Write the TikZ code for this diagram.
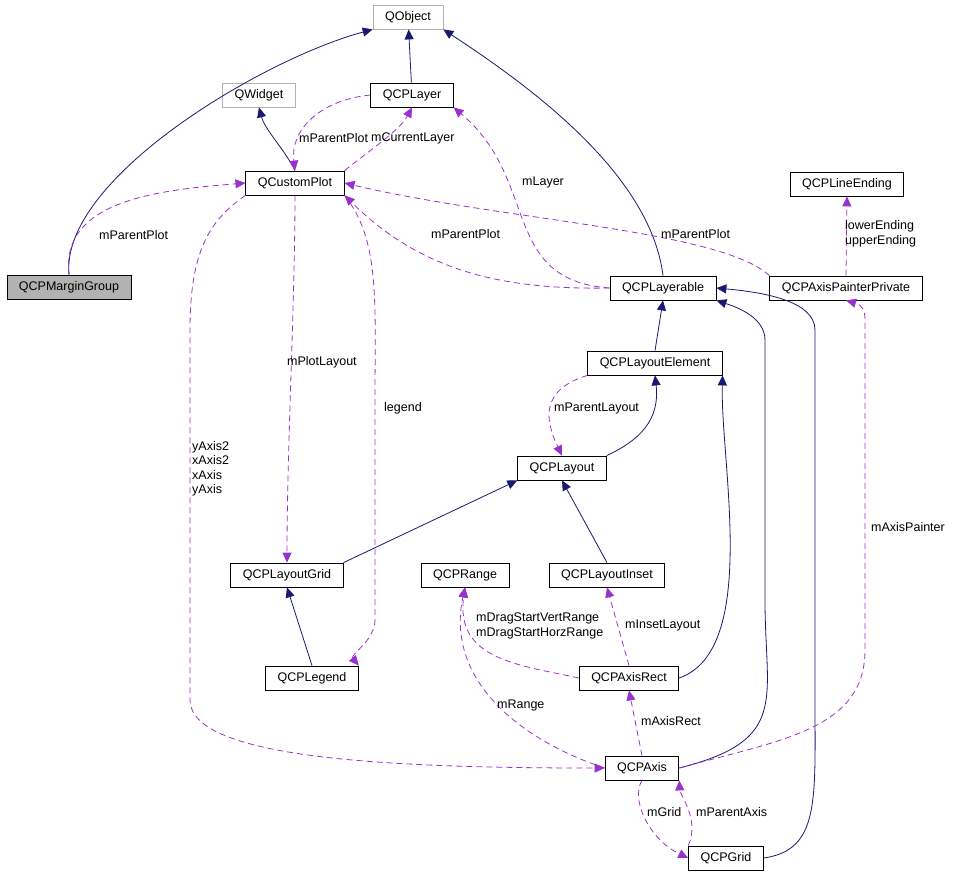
\documentclass[tikz,border=0pt]{standalone}
\usepackage{fontspec}
\setmainfont{Liberation Sans}
\usetikzlibrary{arrows.meta}
\definecolor{navy}{RGB}{25,25,112}
\definecolor{usage}{RGB}{153,50,204}
\begin{document}
\begin{tikzpicture}[x=1pt,y=-1pt,font=\fontsize{12.5}{14.5}\selectfont]
    \tikzset{cls/.style = {shape=rectangle,draw,thick,minimum height=24pt,inner xsep=12pt,inner ysep=2pt}}
    \tikzset{ext/.style = {cls,draw=gray!60}}
    \tikzset{cur/.style = {cls,fill=gray!60}}
    \tikzset{erbt/.style = {navy,thick,-{Triangle[length=10pt,width=9pt]}}}
    \tikzset{uses/.style = {usage,thick,dashed,dash pattern=on 6pt off 4pt,-{Triangle[length=10pt,width=9pt]}}}
    \tikzset{lbl/.style = {align=left,inner sep=0pt,anchor=west}}

    \useasboundingbox (0,0) rectangle (954,876);

    \node[ext] (QObject) at (408,17) {QObject};
    \node[ext] (QWidget) at (259,95) {QWidget};
    \node[cls] (QCPLayer) at (412,95) {QCPLayer};
    \node[cls] (QCustomPlot) at (295,183) {QCustomPlot};
    \node[cur] (QCPMarginGroup) at (69,287) {QCPMarginGroup};
    \node[cls] (QCPLineEnding) at (847,184) {QCPLineEnding};
    \node[cls] (QCPLayerable) at (663,288) {QCPLayerable};
    \node[cls] (QCPAxisPainterPrivate) at (846,288) {QCPAxisPainterPrivate};
    \node[cls] (QCPLayoutElement) at (655,363) {QCPLayoutElement};
    \node[cls] (QCPLayout) at (562,468) {QCPLayout};
    \node[cls] (QCPLayoutGrid) at (287,575) {QCPLayoutGrid};
    \node[cls] (QCPRange) at (465,575) {QCPRange};
    \node[cls] (QCPLayoutInset) at (607,575) {QCPLayoutInset};
    \node[cls] (QCPLegend) at (312,678) {QCPLegend};
    \node[cls] (QCPAxisRect) at (629,678) {QCPAxisRect};
    \node[cls] (QCPAxis) at (642,768) {QCPAxis};
    \node[cls] (QCPGrid) at (726,858) {QCPGrid};

    % inheritance
    \draw[erbt] (QCPMarginGroup.north) .. controls (60,180) and (260,60) .. (QObject.south west);
    \draw[erbt] (QCPLayer) -- (QObject);
    \draw[erbt] (QCustomPlot.north) .. controls (285,150) and (265,130) .. (QWidget.south);
    \draw[erbt] (QCPLayerable.north) .. controls (650,170) and (520,80) .. (QObject.south east);
    \draw[erbt] (QCPLayoutElement.north) -- (QCPLayerable.south);
    \draw[erbt] (QCPLayout.north east) .. controls (640,440) and (660,420) .. (QCPLayoutElement.south);
    \draw[erbt] (QCPLayoutGrid.north east) -- (QCPLayout.south west);
    \draw[erbt] (QCPLegend.north) -- (QCPLayoutGrid.south);
    \draw[erbt] (QCPLayoutInset.north) -- (QCPLayout.south);
    \draw[erbt] (QCPAxisRect.east) .. controls (760,650) and (720,460) .. (QCPLayoutElement.south east);
    \draw[erbt] (QCPAxis.east) .. controls (790,740) and (765,700) .. (765,600) -- (765,340) .. controls (765,315) and (730,305) .. (QCPLayerable.south east);
    \draw[erbt] (QCPGrid.east) .. controls (820,850) and (815,800) .. (815,700) -- (815,330) .. controls (815,300) and (760,292) .. (QCPLayerable.east);

    % usage
    \draw[uses] (QCPMarginGroup.north) .. controls (60,200) and (160,190) .. (QCustomPlot.west);
    \draw[uses] (QCustomPlot.north east) .. controls (370,150) and (400,130) .. (QCPLayer.south);
    \draw[uses] (QCPLayer.west) .. controls (320,100) and (290,130) .. (QCustomPlot.north);
    \draw[uses] (QCPLayerable.west) .. controls (500,290) and (420,270) .. (QCustomPlot.south east);
    \draw[uses] (QCPLayerable.west) .. controls (500,280) and (540,180) .. (QCPLayer.south east);
    \draw[uses] (QCPAxisPainterPrivate.north west) .. controls (720,230) and (500,220) .. (QCustomPlot.east);
    \draw[uses] (QCPAxisPainterPrivate.north) -- (QCPLineEnding.south);
    \draw[uses] (QCustomPlot.south) .. controls (295,300) and (287,450) .. (QCPLayoutGrid.north);
    \draw[uses] (QCustomPlot.south east) .. controls (380,240) and (375,300) .. (375,400) -- (375,620) .. controls (375,640) and (350,655) .. (QCPLegend.north east);
    \draw[uses] (QCustomPlot.south west) .. controls (210,220) and (190,250) .. (190,330) -- (190,700) .. controls (190,760) and (400,768) .. (QCPAxis.west);
    \draw[uses] (QCPLayoutElement.south west) .. controls (540,390) and (545,420) .. (QCPLayout.north);
    \draw[uses] (QCPAxisRect.north) -- (QCPLayoutInset.south);
    \draw[uses] (QCPAxisRect.west) .. controls (520,665) and (455,660) .. (QCPRange.south);
    \draw[uses] (QCPAxis.west) .. controls (520,740) and (445,680) .. (QCPRange.south);
    \draw[uses] (QCPAxis.north) -- (QCPAxisRect.south);
    \draw[uses] (QCPAxis.east) .. controls (780,740) and (865,730) .. (865,650) -- (865,320) .. controls (865,310) and (862,305) .. (QCPAxisPainterPrivate.south);
    \draw[uses] (QCPAxis.south) .. controls (630,800) and (650,840) .. (QCPGrid.west);
    \draw[uses] (QCPGrid.north west) .. controls (700,820) and (680,795) .. (QCPAxis.south east);

    % labels
    \node[lbl] (lMarginPlot) at (99,235) {mParentPlot};
    \node[lbl] (lCurLayer) at (371,138) {mCurrentLayer};
    \node[lbl] (lLayerPlot) at (299,138) {mParentPlot};
    \node[lbl] (lLayer) at (522,182) {mLayer};
    \node[lbl] (lLayerablePlot) at (431,234) {mParentPlot};
    \node[lbl] (lPainterPlot) at (661,234) {mParentPlot};
    \node[lbl] (lEnding) at (845,234) {lowerEnding\\upperEnding};
    \node[lbl] (lPlotLayout) at (287,362) {mPlotLayout};
    \node[lbl] (lLegend) at (384,408) {legend};
    \node[lbl] (lAxes) at (192,469) {yAxis2\\xAxis2\\xAxis\\yAxis};
    \node[lbl] (lParentLayout) at (554,408) {mParentLayout};
    \node[lbl] (lDragRange) at (476,626) {mDragStartVertRange\\mDragStartHorzRange};
    \node[lbl] (lInset) at (625,625) {mInsetLayout};
    \node[lbl] (lRange) at (497,705) {mRange};
    \node[lbl] (lAxisRect) at (641,721) {mAxisRect};
    \node[lbl] (lPainter) at (871,527) {mAxisPainter};
    \node[lbl] (lGrid) at (647,812) {mGrid};
    \node[lbl] (lParentAxis) at (696,812) {mParentAxis};
\end{tikzpicture}
\end{document}
